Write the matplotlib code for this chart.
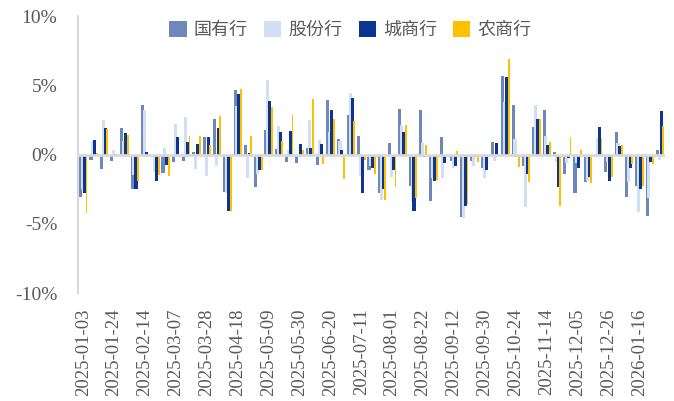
import numpy as np
import matplotlib.pyplot as plt

plt.rcParams['font.family'] = ['Liberation Serif', 'Noto Sans CJK SC', 'DejaVu Sans']
plt.rcParams['axes.unicode_minus'] = False

# 周度日期
dates = ['2025-01-03', '2025-01-10', '2025-01-17', '2025-01-24', '2025-01-27', '2025-02-07',
         '2025-02-14', '2025-02-21', '2025-02-28', '2025-03-07', '2025-03-14', '2025-03-21',
         '2025-03-28', '2025-04-03', '2025-04-11', '2025-04-18', '2025-04-25', '2025-04-30',
         '2025-05-09', '2025-05-16', '2025-05-23', '2025-05-30', '2025-06-06', '2025-06-13',
         '2025-06-20', '2025-06-27', '2025-07-04', '2025-07-11', '2025-07-18', '2025-07-25',
         '2025-08-01', '2025-08-08', '2025-08-15', '2025-08-22', '2025-08-29', '2025-09-05',
         '2025-09-12', '2025-09-19', '2025-09-26', '2025-09-30', '2025-10-10', '2025-10-17',
         '2025-10-24', '2025-10-31', '2025-11-07', '2025-11-14', '2025-11-21', '2025-11-28',
         '2025-12-05', '2025-12-12', '2025-12-19', '2025-12-26', '2025-12-31', '2026-01-09',
         '2026-01-16', '2026-01-23', '2026-01-30']

# 周涨跌幅（%）
guoyou = [-3.1, -0.39, -1.08, -0.48, 1.95, -2.5, 3.59, -0.2, -1.35, -0.55,
          -0.48, 0.15, 1.3, 2.58, -2.7, 4.63, 0.7, -2.36, 1.76, 0.41,
          -0.55, -0.6, 0.46, -0.75, 3.95, 1.13, 2.82, 1.37, -1.15, -2.8,
          0.82, 3.3, -2.24, 3.23, -3.35, 1.28, -0.46, -4.5, -0.48, -0.99,
          0.89, 5.64, 3.61, -0.84, 1.98, 3.23, 0.19, -1.4, -2.77, -1.95,
          -0.17, -1.23, 1.61, -3.04, -2.29, -4.46, 0.34]
gufen = [-2.5, 0.95, 2.46, 0.34, 1.0, -1.45, 3.23, -1.28, 0.5, 2.19,
         2.7, -1.08, -1.57, -0.8, -2.8, 3.54, -1.69, -1.4, 5.35, 2.05,
         0.36, 0.05, 2.5, 1.06, 1.61, 0.99, 4.46, -1.57, -0.8, -3.28,
         -1.59, 2.14, -3.45, 0.84, -1.71, -1.71, -0.99, -4.58, -0.84, -1.71,
         -0.48, 3.78, 1.13, -3.76, 3.59, 1.37, -0.55, -0.6, -0.6, -1.93,
         1.18, -0.55, 0.82, -2.0, -4.17, -3.16, -0.36]
chengshang = [-2.8, 1.06, 1.9, 0.07, 1.52, -2.48, 0.19, -1.93, -0.75, 1.3,
              0.94, 0.75, 1.23, 1.95, -4.1, 4.36, 0.12, -1.1, 3.83, 1.66,
              1.73, 0.77, 0.48, 0.77, 3.25, 0.34, 4.07, -2.77, -1.0, -2.48,
              -1.1, 1.61, -4.05, -0.17, -1.93, -0.6, -0.8, -3.73, -0.19, -1.1,
              0.82, 5.59, -0.19, -1.4, 2.53, 0.7, -2.36, -0.24, -0.96, -1.64,
              1.98, -1.88, 0.6, -0.99, -2.48, -0.55, 3.11]
nongshang = [-4.2, 0.08, 1.86, 0.05, 1.42, -1.9, -0.19, -1.45, -1.57, 0.05,
             1.37, 1.35, 0.7, 2.77, -4.1, 4.75, 1.37, -1.15, 3.42, 1.0,
             2.82, 0.36, 3.98, -0.67, 2.58, -1.8, 2.43, -0.43, -1.4, -3.28,
             -2.31, 2.1, -3.16, 0.7, -1.83, 0.05, 0.22, -3.59, -0.55, -0.2,
             0.05, 6.92, -0.87, -1.95, 2.58, 0.94, -3.69, 1.3, 0.34, -2.05,
             1.2, -1.59, 0.72, -0.72, -2.24, -0.72, 2.05]

series = ['国有行', '股份行', '城商行', '农商行']
colors = ['#6F88BC', '#D2DEF1', '#0B3591', '#FFC000']

fig = plt.figure(figsize=(6.74, 4.01), dpi=100)
ax = fig.add_axes([0.1157, 0.2693, 0.8709, 0.6907])

x = np.arange(len(dates))
offsets = [-0.24, -0.06, 0.13, 0.33]
widths = [0.3, 0.3, 0.3, 0.18]
for k, vals in enumerate([guoyou, gufen, chengshang, nongshang]):
    ax.bar(x + offsets[k], vals, width=widths[k], color=colors[k],
           label=series[k], zorder=2 + k)

ax.axhline(0, color='#D9D9D9', linewidth=2, zorder=10)

ax.set_xlim(-0.5, len(dates) - 0.5)
ax.set_ylim(-10, 10)
ax.set_yticks([-10, -5, 0, 5, 10])
ax.set_yticklabels(['-10%', '-5%', '0%', '5%', '10%'])
ax.set_xticks(x[::3])
ax.set_xticklabels(dates[::3], rotation=90)

for s in ['top', 'right', 'bottom']:
    ax.spines[s].set_visible(False)
ax.spines['left'].set_color('#D9D9D9')
ax.spines['left'].set_linewidth(1.5)
ax.tick_params(axis='y', length=0, pad=15, labelsize=14, labelcolor='#595959')
ax.tick_params(axis='x', length=0, pad=11, labelsize=13.5, labelcolor='#595959')

leg = fig.legend(loc='center', bbox_to_anchor=(0.52, 0.925), ncol=4, frameon=False,
                 prop={'family': 'Noto Sans CJK SC', 'size': 13},
                 handlelength=0.95, handleheight=0.95, handletextpad=0.4,
                 columnspacing=0.9)
for t in leg.get_texts():
    t.set_color('#595959')

plt.savefig('out.png', dpi=100)
